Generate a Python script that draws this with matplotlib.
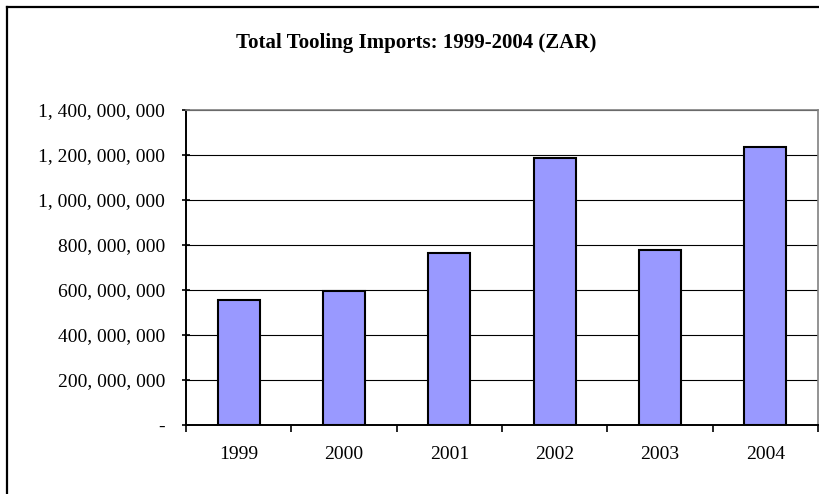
import numpy as np
import matplotlib.pyplot as plt
from matplotlib.ticker import FuncFormatter

# Total tooling imports per year (ZAR)
years = ['1999', '2000', '2001', '2002', '2003', '2004']
imports = [556000000, 594000000, 765000000, 1186000000, 778000000, 1237000000]
yticks = [0, 200000000, 400000000, 600000000, 800000000, 1000000000, 1200000000, 1400000000]

plt.rcParams['font.family'] = ['Liberation Serif', 'DejaVu Serif']

fig = plt.figure(figsize=(8.2, 4.94), dpi=100)
ax = fig.add_axes([0.2268, 0.1397, 0.7707, 0.6377])

x = np.arange(len(years))
ax.bar(x, imports, width=0.4, color='#9999FF', edgecolor='black', linewidth=1.5, zorder=3)

ax.set_xlim(-0.5, len(years) - 0.5)
ax.set_ylim(0, 1400000000)
ax.set_yticks(yticks)
ax.yaxis.set_major_formatter(FuncFormatter(
    lambda v, p: '-' if v == 0 else f'{int(v):,}'.replace(',', ', ')))
ax.grid(axis='y', color='black', linewidth=0.8, zorder=1)

# year labels centred under bars, ticks on the category boundaries
ax.set_xticks(x)
ax.set_xticklabels(years)
ax.set_xticks(np.arange(len(years) + 1) - 0.5, minor=True)
ax.tick_params(axis='x', which='major', length=0, pad=15, labelsize=14)
ax.tick_params(axis='x', which='minor', length=5, width=1.2, direction='out')
ax.tick_params(axis='y', length=6, width=1.2, direction='inout', labelsize=14, pad=12)

for s in ['left', 'bottom']:
    ax.spines[s].set_linewidth(1.4)
    ax.spines[s].set_color('black')
for s in ['top', 'right']:
    ax.spines[s].set_linewidth(1.2)
    ax.spines[s].set_color('#808080')

fig.text(0.507, 1 - 43 / 494, 'Total Tooling Imports: 1999-2004 (ZAR)',
         ha='center', va='center', fontsize=15, fontweight='bold')

# chart frame (top and left edges)
fx = 7 / 820
fy = 1 - 7 / 494
fig.add_artist(plt.Line2D([fx, 1], [fy, fy], color='black', linewidth=1.6, transform=fig.transFigure))
fig.add_artist(plt.Line2D([fx, fx], [0, fy], color='black', linewidth=1.6, transform=fig.transFigure))

fig.savefig('out.png', dpi=100)
